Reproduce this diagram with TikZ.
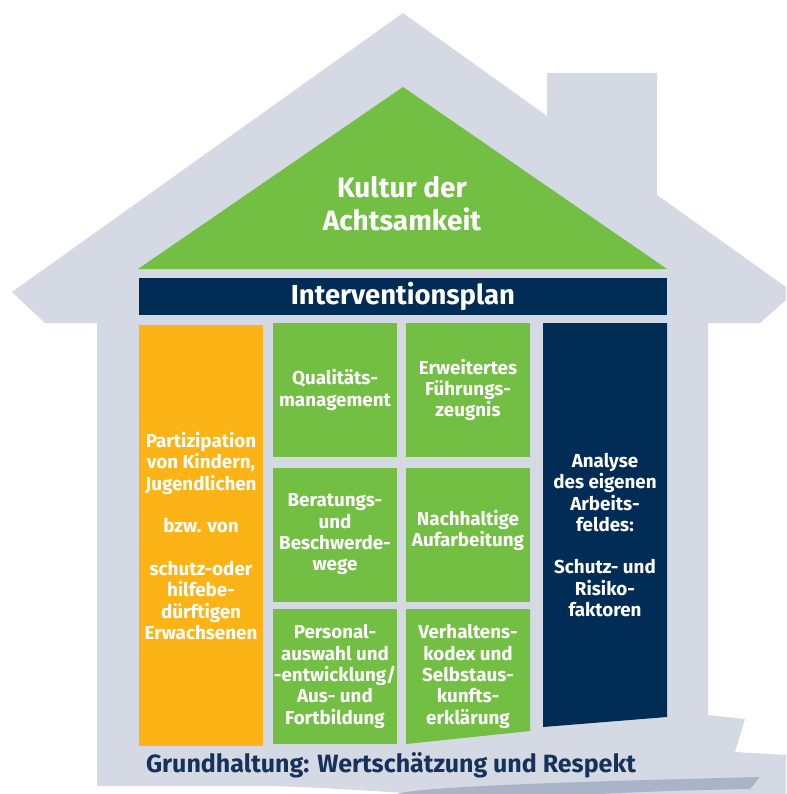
\documentclass[tikz,border=0pt]{standalone}
\usepackage{fontspec}
\setmainfont{Fira Sans}
\usetikzlibrary{positioning}

\definecolor{housegrey}{HTML}{D5D9E4}
\definecolor{bandgrey}{HTML}{AAB4C9}
\definecolor{roofgreen}{HTML}{72BF44}
\definecolor{pillarorange}{HTML}{FCB316}
\definecolor{planblue}{HTML}{002C56}
\definecolor{basetext}{HTML}{17325A}

\tikzset{
  pillartext/.style={inner sep=0pt, align=center, text=white,
    font=\bfseries\fontsize{18.8}{21.3}\selectfont},
  field/.style={pillartext, fill=roofgreen, minimum width=124pt, minimum height=134pt},
}

\begin{document}
\begin{tikzpicture}[x=1pt, y=-1pt]
  \useasboundingbox (0,0) rectangle (786,794);

  % house outline with chimney and the swoosh at the foot
  \fill[housegrey] (403,13) -- (547,116) -- (547,73) -- (657,73) -- (657,195)
    -- (786,287) -- (786,300) -- (760,323) -- (708,323) -- (708,715)
    -- (745,719) -- (735,752) -- (786,755) -- (786,794) -- (420,794)
    .. controls (330,788) and (300,787) .. (270,786) -- (97,786)
    -- (97,323) -- (45,323) -- (12,292) -- cycle;
  \fill[bandgrey] (397,794) .. controls (420,786) and (600,781) .. (760,777)
    -- (750,789) .. controls (690,790) and (640,792) .. (600,794) -- cycle;

  % roof
  \fill[roofgreen] (403,87) -- (667,269) -- (138,269) -- cycle;
  \node (kultur) at (402,204) [pillartext, font=\bfseries\fontsize{28}{33}\selectfont]
    {Kultur der\\Achtsamkeit};

  % plan bar
  \node (plan) at (403,296.5) [fill=planblue, minimum width=528pt, minimum height=37pt,
    inner sep=0pt, text=white, font=\bfseries\fontsize{27.5}{30}\selectfont] {Interventionsplan};

  % left pillar
  \node (partizipation) at (201,535) [pillartext, fill=pillarorange, minimum width=124pt,
    minimum height=421pt] {};
  \node (partizipationtext) at (201,536) [pillartext]
    {Partizipation\\von Kindern,\\Jugendlichen\\[\baselineskip]bzw. von\\[\baselineskip]schutz-oder\\hilfebe-\\dürftigen\\Erwachsenen};

  % middle fields
  \node (quali) at (335,390) [field] {Qualitäts-\\management};
  \node (beratung) at (335,534.5) [field] {Beratungs-\\und\\Beschwerde-\\wege};
  \node (personal) at (335,676.5) [field, minimum height=135pt]
    {Personal-\\auswahl und\\-entwicklung/\\Aus- und\\Fortbildung};
  \node (zeugnis) at (468,390) [field] {Erweitertes\\Führungs-\\zeugnis};
  \node (aufarbeitung) at (468,534.5) [field] {\\[-14pt]Nachhaltige\\Aufarbeitung};
  \fill[roofgreen] (406,609) -- (530,609) -- (530,731) -- (406,744) -- cycle;
  \node (kodex) at (468,676.5) [pillartext]
    {Verhaltens-\\kodex und\\Selbstaus-\\kunfts-\\erklärung};

  % right pillar
  \fill[planblue] (543,323) -- (667,323) -- (667,717) -- (543,727) -- cycle;
  \node (analyse) at (605,535) [pillartext]
    {Analyse\\des eigenen\\Arbeits-\\feldes:\\[\baselineskip]Schutz- und\\Risiko-\\faktoren};

  % foundation
  \node (grundhaltung) at (391,765) [text=basetext, font=\bfseries\fontsize{25}{28}\selectfont]
    {Grundhaltung: Wertschätzung und Respekt};
\end{tikzpicture}
\end{document}
